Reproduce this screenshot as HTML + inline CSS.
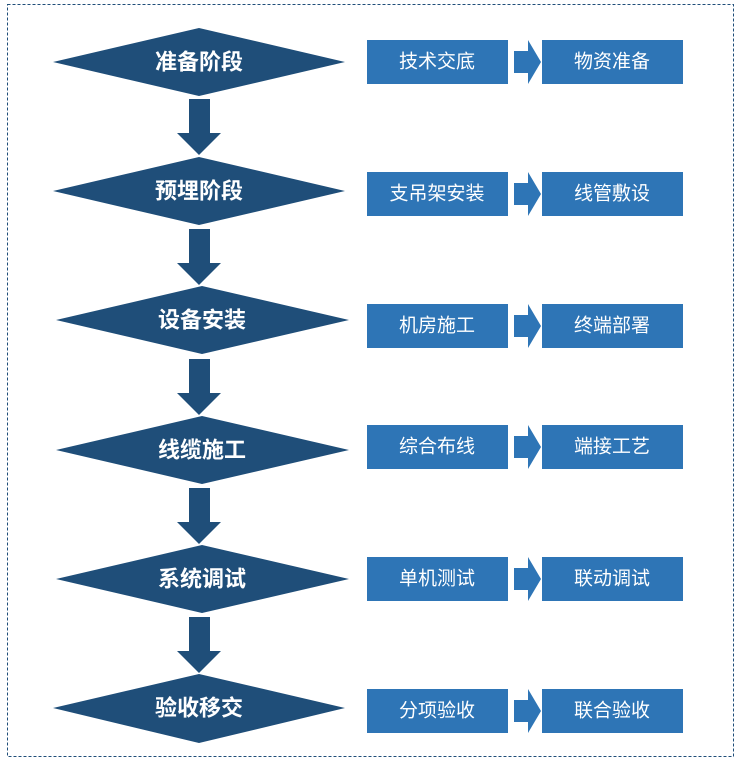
<!DOCTYPE html>
<html><head><meta charset="utf-8"><style>
html,body{margin:0;padding:0;background:#fff;width:740px;height:763px;overflow:hidden}
svg{display:block}
.d{fill:#1f4e79}
.b{fill:#2e75b6}
.dt{font-family:"Liberation Sans","Noto Sans CJK SC",sans-serif;font-size:22px;font-weight:bold;fill:#fff;text-anchor:middle;dominant-baseline:central}
.bt{font-family:"Liberation Sans","Noto Sans CJK SC",sans-serif;font-size:19px;fill:#fff;text-anchor:middle;dominant-baseline:central}
</style></head><body>
<svg width="740" height="763" viewBox="0 0 740 763">
<rect x="7.5" y="4.5" width="726" height="752" fill="none" stroke="#1f4e79" stroke-width="1" stroke-dasharray="3,2"/>
<!-- diamonds -->
<polygon class="d" points="53,62 199,28 345,62 199,96"/>
<polygon class="d" points="53,191 199,157 345,191 199,225"/>
<polygon class="d" points="56,320 202,286 349,320 202,354"/>
<polygon class="d" points="56,450 202,416 349,450 202,484"/>
<polygon class="d" points="56,579 202,545 349,579 202,613"/>
<polygon class="d" points="53,708 199,674 345,708 199,743"/>
<text class="dt" x="199" y="62">准备阶段</text>
<text class="dt" x="199" y="191">预埋阶段</text>
<text class="dt" x="202" y="320">设备安装</text>
<text class="dt" x="202" y="450">线缆施工</text>
<text class="dt" x="202" y="579">系统调试</text>
<text class="dt" x="199" y="708">验收移交</text>
<!-- down arrows -->
<polygon class="d" points="189,99 210,99 210,133 221,133 199,155 177,133 189,133"/>
<polygon class="d" points="189,229 210,229 210,263 221,263 199,285 177,263 189,263"/>
<polygon class="d" points="189,359 210,359 210,393 221,393 199,415 177,393 189,393"/>
<polygon class="d" points="189,488 210,488 210,522 221,522 199,544 177,522 189,522"/>
<polygon class="d" points="189,617 210,617 210,651 221,651 199,673 177,651 189,651"/>
<!-- boxes -->
<g>
<rect class="b" x="367" y="40" width="141" height="44"/><rect class="b" x="542" y="40" width="141" height="44"/>
<polygon class="b" points="514,51 528,51 528,40 541,62 528,84 528,73 514,73"/>
<text class="bt" x="437" y="62">技术交底</text><text class="bt" x="612" y="62">物资准备</text>
</g>
<g>
<rect class="b" x="367" y="172" width="141" height="44"/><rect class="b" x="542" y="172" width="141" height="44"/>
<polygon class="b" points="514,183 528,183 528,172 541,194 528,216 528,205 514,205"/>
<text class="bt" x="437" y="194">支吊架安装</text><text class="bt" x="612" y="194">线管敷设</text>
</g>
<g>
<rect class="b" x="367" y="304" width="141" height="44"/><rect class="b" x="542" y="304" width="141" height="44"/>
<polygon class="b" points="514,315 528,315 528,304 541,326 528,348 528,337 514,337"/>
<text class="bt" x="437" y="326">机房施工</text><text class="bt" x="612" y="326">终端部署</text>
</g>
<g>
<rect class="b" x="367" y="425" width="141" height="44"/><rect class="b" x="542" y="425" width="141" height="44"/>
<polygon class="b" points="514,436 528,436 528,425 541,447 528,469 528,458 514,458"/>
<text class="bt" x="437" y="447">综合布线</text><text class="bt" x="612" y="447">端接工艺</text>
</g>
<g>
<rect class="b" x="367" y="557" width="141" height="44"/><rect class="b" x="542" y="557" width="141" height="44"/>
<polygon class="b" points="514,568 528,568 528,557 541,579 528,601 528,590 514,590"/>
<text class="bt" x="437" y="579">单机测试</text><text class="bt" x="612" y="579">联动调试</text>
</g>
<g>
<rect class="b" x="367" y="689" width="141" height="44"/><rect class="b" x="542" y="689" width="141" height="44"/>
<polygon class="b" points="514,700 528,700 528,689 541,711 528,733 528,722 514,722"/>
<text class="bt" x="437" y="711">分项验收</text><text class="bt" x="612" y="711">联合验收</text>
</g>
</svg>
</body></html>
